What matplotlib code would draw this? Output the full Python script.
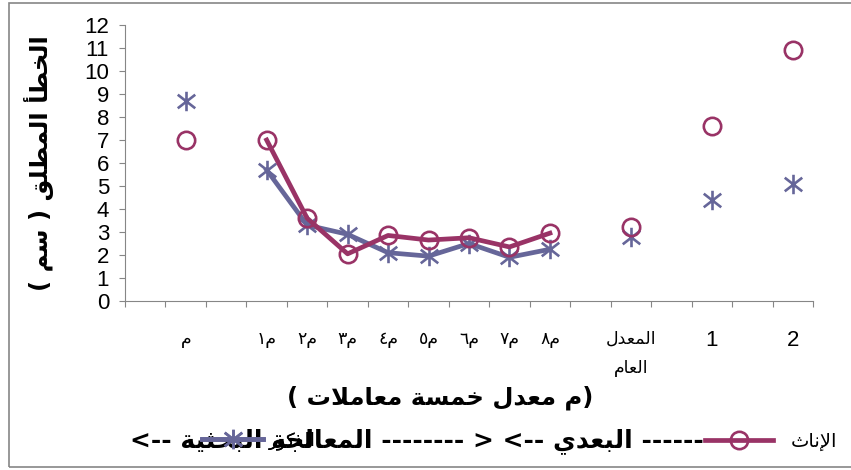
import numpy as np
import matplotlib
matplotlib.use("Agg")
import matplotlib.pyplot as plt
from matplotlib.path import Path
from matplotlib.lines import Line2D
from matplotlib.patches import Rectangle

# categories on the x axis (empty slots are gaps between groups)
categories = ['', 'م', '', 'م١', 'م٢', 'م٣', 'م٤', 'م٥', 'م٦', 'م٧', 'م٨',
              '', 'المعدل\nالعام', '', '1', '', '2']
nan = np.nan
males = [nan, 8.7, nan, 5.7, 3.3, 2.9, 2.1, 1.95, 2.5, 1.9, 2.25,
         nan, 2.8, nan, 4.4, nan, 5.1]
females = [nan, 7.0, nan, 7.0, 3.6, 2.05, 2.85, 2.65, 2.75, 2.35, 2.95,
           nan, 3.2, nan, 7.6, nan, 10.9]
y_ticks = list(range(0, 13))

blue = "#666699"
purple = "#993366"
grey = "#868686"

# matplotlib has no arabic shaping, so pick the presentation forms by hand
FORMS = {'آ': 0xFE81, 'أ': 0xFE83, 'ؤ': 0xFE85, 'إ': 0xFE87, 'ئ': 0xFE89, 'ا': 0xFE8D,
         'ب': 0xFE8F, 'ة': 0xFE93, 'ت': 0xFE95, 'ث': 0xFE99, 'ج': 0xFE9D, 'ح': 0xFEA1,
         'خ': 0xFEA5, 'د': 0xFEA9, 'ذ': 0xFEAB, 'ر': 0xFEAD, 'ز': 0xFEAF, 'س': 0xFEB1,
         'ش': 0xFEB5, 'ص': 0xFEB9, 'ض': 0xFEBD, 'ط': 0xFEC1, 'ظ': 0xFEC5, 'ع': 0xFEC9,
         'غ': 0xFECD, 'ف': 0xFED1, 'ق': 0xFED5, 'ك': 0xFED9, 'ل': 0xFEDD, 'م': 0xFEE1,
         'ن': 0xFEE5, 'ه': 0xFEE9, 'و': 0xFEED, 'ى': 0xFEEF, 'ي': 0xFEF1}
DUAL = set('ئبتثجحخسشصضطظعغفقكلمنهي')
LAM_ALEF = {'آ': 0xFEF5, 'أ': 0xFEF7, 'إ': 0xFEF9, 'ا': 0xFEFB}


def shape(word):
    chars = []
    i = 0
    while i < len(word):
        if word[i] == 'ل' and i + 1 < len(word) and word[i + 1] in LAM_ALEF:
            chars.append(('LA', LAM_ALEF[word[i + 1]]))
            i += 2
        else:
            chars.append((word[i], None))
            i += 1
    out = []
    for k, (c, lig) in enumerate(chars):
        prev = chars[k - 1][0] if k > 0 else None
        nxt = chars[k + 1][0] if k + 1 < len(chars) else None
        jp = prev in DUAL
        if lig is not None:
            out.append(chr(lig + (1 if jp else 0)))
            continue
        if c not in FORMS:
            out.append(c)
            continue
        base = FORMS[c]
        jn = c in DUAL and nxt is not None and (nxt in FORMS or nxt == 'LA')
        if c in DUAL:
            g = base + (3 if jp and jn else 1 if jp else 2 if jn else 0)
        else:
            g = base + (1 if jp else 0)
        out.append(chr(g))
    return ''.join(reversed(out))


def visual(label):
    # tick labels: letters + arabic digits, digits end up on the left
    if label[-1:] in '١٢٣٤٥٦٧٨':
        return label[1:] + shape(label[0])
    return '\n'.join(shape(part) for part in label.split('\n'))


# excel style asterisk marker
star = Path([(0, -1), (0, 1), (-0.9, -0.7), (0.9, 0.7), (-0.9, 0.7), (0.9, -0.7)],
            [Path.MOVETO, Path.LINETO, Path.MOVETO, Path.LINETO, Path.MOVETO, Path.LINETO])

plt.rcParams['font.family'] = ['DejaVu Sans']

fig = plt.figure(figsize=(8.51, 4.70), dpi=100)
ax = fig.add_axes([125 / 851, 169 / 470, 688 / 851, 276 / 470])

x = np.arange(len(categories))
ax.plot(x, males, color=blue, lw=3.4, marker=star, ms=14, mew=1.9,
        mec=blue, mfc='none', zorder=3)
ax.plot(x, females, color=purple, lw=3.4, marker='o', ms=12.5, mew=1.9,
        mec=purple, mfc='none', zorder=4)

ax.set_xlim(-0.5, len(categories) - 0.5)
ax.set_ylim(0, 12)
ax.set_yticks(y_ticks)
ax.set_yticklabels([str(t) for t in y_ticks], family='Liberation Sans', fontsize=16)

ax.set_xticks(x)
ax.set_xticklabels([visual(c) if c else '' for c in categories], va='top',
                   linespacing=1.75)
for lab, c in zip(ax.get_xticklabels(), categories):
    if c in ('1', '2'):
        lab.set_family('Liberation Sans')
        lab.set_fontsize(16)
    else:
        lab.set_fontsize(12.5)
ax.set_xticks(np.arange(-0.5, len(categories), 1), minor=True)
ax.tick_params(axis='x', which='major', length=0, pad=21)
ax.tick_params(axis='x', which='minor', length=4.5, color=grey, width=0.8)
ax.tick_params(axis='y', length=4.5, color=grey, width=0.8, pad=7)

for side in ('top', 'right'):
    ax.spines[side].set_visible(False)
for side in ('left', 'bottom'):
    ax.spines[side].set_color(grey)
    ax.spines[side].set_linewidth(0.8)

# axis titles
ylab = '( ' + shape('سم') + ' ) ' + shape('المطلق') + ' ' + shape('الخطأ')
fig.text(39 / 851, 1 - 163 / 470, ylab, rotation=90, ha='center', va='center',
         fontsize=17.5, fontweight='bold')

line1 = ('( ' + shape('معاملات') + ' ' + shape('خمسة') + ' ' + shape('معدل') + ' '
         + shape('م') + ')')
fig.text(440 / 851, 1 - 398 / 470, line1, ha='center', va='center',
         fontsize=17.5, fontweight='bold')

line2 = ('<-- ' + shape('البحثية') + ' ' + shape('المعالجة') + ' -------- > <-- '
         + shape('البعدي') + ' ------')
fig.text(130 / 851, 1 - 441 / 470, line2, ha='left', va='center',
         fontsize=18, fontweight='bold')

# two legend entries, placed separately like in the original
h_m = Line2D([], [], color=blue, lw=3.4, marker=star, ms=14, mew=1.9, mec=blue)
h_f = Line2D([], [], color=purple, lw=3.4, marker='o', ms=12.5, mew=1.9, mec=purple, mfc='none')
leg1 = fig.legend([h_m], [shape('الذكور')], loc='center left',
                  bbox_to_anchor=(202 / 851, 1 - 441 / 470), frameon=False,
                  borderpad=0, borderaxespad=0, handlelength=3.4, handletextpad=0.3,
                  fontsize=13)
leg2 = fig.legend([h_f], [shape('الإناث')], loc='center left',
                  bbox_to_anchor=(705 / 851, 1 - 441 / 470), frameon=False,
                  borderpad=0, borderaxespad=0, handlelength=3.5, handletextpad=0.9,
                  fontsize=14)
fig.add_artist(leg1)

# chart area border
fig.patches.append(Rectangle((9 / 851, 3 / 470), 1.0, 464 / 470, transform=fig.transFigure,
                             fill=False, edgecolor=grey, lw=1.2, figure=fig))

fig.savefig('out.png', dpi=100)
